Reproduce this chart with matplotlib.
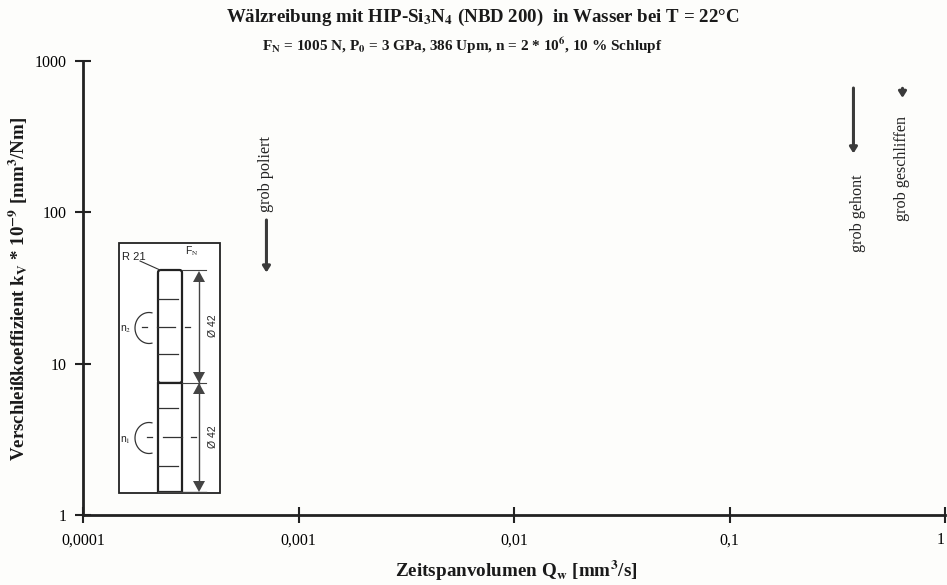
import numpy as np
import matplotlib
matplotlib.use('Agg')
import matplotlib.pyplot as plt
from matplotlib.patches import Rectangle, FancyBboxPatch

plt.rcParams['font.family'] = ['Liberation Serif', 'DejaVu Serif']
plt.rcParams['mathtext.fontset'] = 'stix'

W, H = 947, 585

x_ticks = [0.0001, 0.001, 0.01, 0.1, 1]
x_labels = ['0,0001', '0,001', '0,01', '0,1', '1']
y_ticks = [1, 10, 100, 1000]
y_labels = ['1', '10', '100', '1000']

# finish name, Q_w, k_v start, k_v end of the range arrow
finish_names = ['grob poliert', 'grob gehont', 'grob geschliffen']
finish_q = [0.00071, 0.376, 0.635]
finish_k_top = [89, 663, 660]
finish_k_bottom = [40, 245, 570]
label_q = [0.00071, 0.394, 0.635]
label_k = [100, 55, 88]


def draw_c(ax, cx, cy):
    '''
    Draws the open rotation arrow next to a disc.
    '''
    t = np.radians(np.linspace(78, 282, 40))
    ax.plot(cx + 14 * np.cos(t), cy + 15.5 * np.sin(t), color='#333333', lw=0.9)


def add_sketch(fig):
    '''
    Draws the two-disc test rig sketch, in reference pixel coordinates.
    '''
    ax = fig.add_axes([0, 0, 1, 1], facecolor='none')
    ax.set_xlim(0, W)
    ax.set_ylim(H, 0)
    ax.axis('off')
    ax.add_patch(Rectangle((119, 243), 101, 250, fc='white', ec='#222222', lw=1.3))
    ax.add_patch(FancyBboxPatch((158, 270), 24, 113, boxstyle='round,pad=0,rounding_size=2.5',
                                fc='white', ec='#222222', lw=1.6))
    ax.add_patch(Rectangle((158, 383), 24, 109, fc='white', ec='#222222', lw=1.6))
    ax.plot([140, 160], [261, 270], color='#333333', lw=0.8)
    ax.plot([182, 206], [270, 270], color='#444444', lw=0.8)
    ax.plot([182, 206], [383, 383], color='#444444', lw=0.8)
    ax.plot([158, 206], [492, 492], color='#444444', lw=1.0)
    # centre marks on the discs
    for y in [299, 354, 408, 466]:
        ax.plot([158, 178], [y, y], color='#333333', lw=0.9)
    ax.plot([142, 147], [327, 327], color='#333333', lw=0.9)
    ax.plot([157, 175], [327, 327], color='#333333', lw=0.9)
    ax.plot([185, 190], [327, 327], color='#333333', lw=0.9)
    ax.plot([147, 152], [437, 437], color='#333333', lw=0.9)
    ax.plot([163, 182], [437, 437], color='#333333', lw=0.9)
    ax.plot([191, 196], [437, 437], color='#333333', lw=0.9)
    draw_c(ax, 149, 328)
    draw_c(ax, 149, 438)
    # dimension lines
    ax.plot([199, 199], [275, 488], color='#444444', lw=1.0)
    for tip, base in [(271, 282), (383, 372), (383, 394), (492, 481)]:
        ax.fill([199, 193, 205], [tip, base, base], color='#444444', lw=0)
    sans = 'Liberation Sans'
    ax.text(122, 257, 'R 21', family=sans, fontsize=8, color='#222222', va='center')
    ax.text(192, 251, 'F$_\\mathrm{N}$', family=sans, fontsize=7.5, color='#222222', ha='center', va='center')
    ax.text(126, 329, 'n$_2$', family=sans, fontsize=7.5, color='#222222', ha='center', va='center')
    ax.text(125, 440, 'n$_1$', family=sans, fontsize=7.5, color='#222222', ha='center', va='center')
    ax.text(213, 326, '\u00d8 42', family=sans, fontsize=7.5, color='#222222', rotation=90, ha='center', va='center')
    ax.text(213, 437, '\u00d8 42', family=sans, fontsize=7.5, color='#222222', rotation=90, ha='center', va='center')


def plot_chart():
    '''
    Draws the empty log-log wear chart with the three range arrows and saves it.
    '''
    fig = plt.figure(figsize=(W / 100, H / 100), dpi=100, facecolor='#fdfdfb')
    ax = fig.add_axes([83 / W, 1 - 515 / H, (945 - 83) / W, (515 - 61) / H], facecolor='none')
    ax.set_xscale('log')
    ax.set_yscale('log')
    ax.set_xlim(0.0001, 1)
    ax.set_ylim(1, 1000)
    for side in ['top', 'right']:
        ax.spines[side].set_visible(False)
    for side in ['left', 'bottom']:
        ax.spines[side].set_linewidth(2)
        ax.spines[side].set_color('#222222')
    ax.set_xticks(x_ticks)
    ax.set_xticklabels(x_labels)
    ax.set_yticks(y_ticks)
    ax.set_yticklabels(y_labels)
    ax.minorticks_off()
    ax.tick_params(axis='x', direction='inout', length=11, width=1.5, labelsize=11.4, pad=7, color='#222222')
    ax.tick_params(axis='y', direction='inout', length=12, width=1.5, labelsize=11.4, pad=6, color='#222222')
    # the last label sits on the picture edge
    ax.get_xticklabels()[-1].set_ha('right')

    for q, top, bottom in zip(finish_q, finish_k_top, finish_k_bottom):
        ax.annotate('', xy=(q, bottom), xytext=(q, top),
                    arrowprops=dict(arrowstyle='-|>,head_width=0.22,head_length=0.35', lw=2.2,
                                    color='#3a3a3a', shrinkA=0, shrinkB=0))
    for name, q, k in zip(finish_names, label_q, label_k):
        ax.text(q, k, name, rotation=90, fontsize=11.6, color='#222222', ha='center', va='bottom')

    fig.text(483 / W, 1 - 17 / H, 'W\u00e4lzreibung mit HIP-Si$_\\mathbf{3}$N$_\\mathbf{4}$ (NBD 200)  in Wasser bei T = 22\u00b0C',
             fontsize=13.6, fontweight='bold', ha='center', va='center', color='#1a1a1a')
    fig.text(462 / W, 1 - 46 / H, 'F$_\\mathbf{N}$ = 1005 N, P$_\\mathbf{0}$ = 3 GPa, 386 Upm, n = 2 * 10$^\\mathbf{6}$, 10 % Schlupf',
             fontsize=11, fontweight='bold', ha='center', va='center', color='#1a1a1a')
    fig.text(516 / W, 1 - 571 / H, 'Zeitspanvolumen Q$_\\mathbf{w}$ [mm$^\\mathbf{3}$/s]',
             fontsize=13.8, fontweight='bold', ha='center', va='center', color='#1a1a1a')
    fig.text(18 / W, 1 - 289 / H, 'Verschlei\u00dfkoeffizient k$_\\mathbf{V}$ * 10$^{\\mathbf{-9}}$ [mm$^\\mathbf{3}$/Nm]',
             fontsize=13.6, fontweight='bold', rotation=90, ha='center', va='center', color='#1a1a1a')

    add_sketch(fig)
    fig.savefig('out.png', dpi=100, facecolor=fig.get_facecolor())


plot_chart()
